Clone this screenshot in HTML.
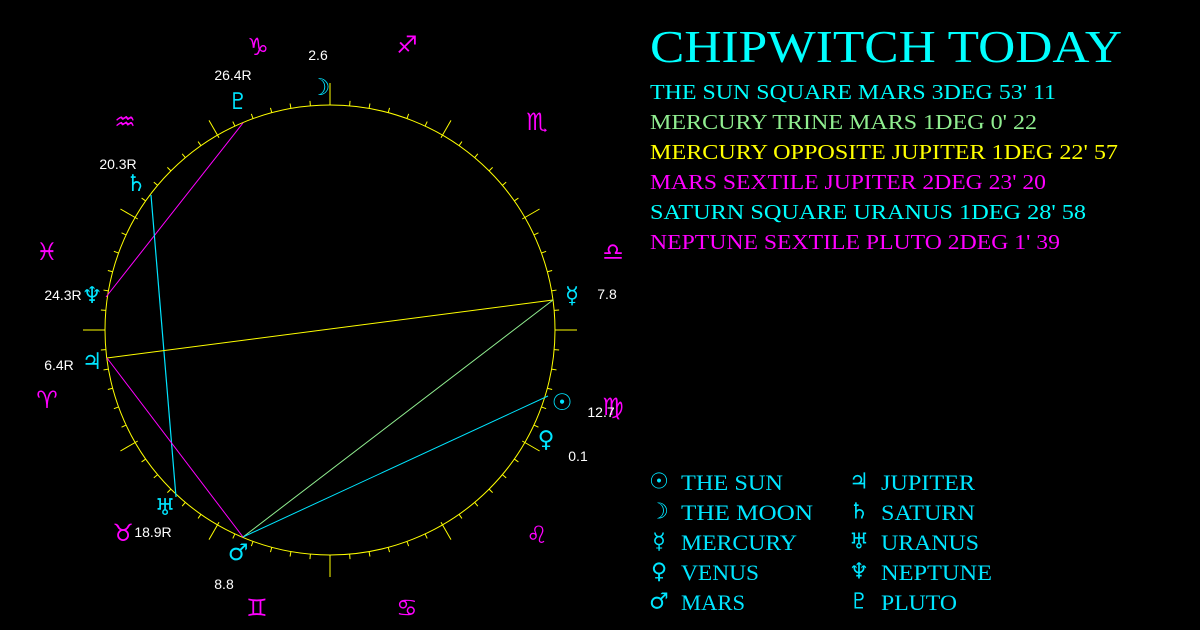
<!DOCTYPE html>
<html><head><meta charset="utf-8"><style>
html,body{margin:0;padding:0;background:#000;width:1200px;height:630px;overflow:hidden}
svg{position:absolute;left:0;top:0}
.t{font-family:"Liberation Serif","DejaVu Serif",serif;text-transform:uppercase}
</style></head><body>
<svg id="s" width="1200" height="630" viewBox="0 0 1200 630" xmlns="http://www.w3.org/2000/svg">
<rect width="1200" height="630" fill="#000"/>
<circle cx="330" cy="330" r="225" fill="none" stroke="#ffff00" stroke-width="1"/>
<g id="ticks" stroke="#ffff00" stroke-width="1"></g>
<line x1="243" y1="123" x2="106" y2="297" stroke="#ff00ff" stroke-width="1"/>
<line x1="151" y1="195" x2="176" y2="497" stroke="#00e5ff" stroke-width="1.2"/>
<line x1="553" y1="300" x2="107" y2="358" stroke="#ffff00" stroke-width="1"/>
<line x1="553" y1="300" x2="243" y2="537" stroke="#90ee90" stroke-width="1"/>
<line x1="548" y1="396" x2="243" y2="537" stroke="#00e5ff" stroke-width="1"/>
<line x1="107" y1="358" x2="243" y2="537" stroke="#ff00ff" stroke-width="1"/>
<g fill="#ff00ff" font-family="DejaVu Sans,sans-serif" font-size="24" text-anchor="middle" dominant-baseline="central">
<text x="258" y="47">♑&#xFE0E;</text><text x="407" y="45">♐&#xFE0E;</text><text x="537" y="122">♏&#xFE0E;</text>
<text x="613" y="252">♎&#xFE0E;</text><text x="613" y="407">♍&#xFE0E;</text><text x="537" y="535">♌&#xFE0E;</text>
<text x="407" y="608">♋&#xFE0E;</text><text x="257" y="608">♊&#xFE0E;</text><text x="123" y="533">♉&#xFE0E;</text>
<text x="47" y="400">♈&#xFE0E;</text><text x="47" y="252">♓&#xFE0E;</text><text x="125" y="122">♒&#xFE0E;</text>
</g>
<g fill="#00e5ff" font-family="DejaVu Sans,sans-serif" font-size="23" text-anchor="middle" dominant-baseline="central">
<text x="320" y="88">☽</text><text x="238" y="102">♇</text><text x="136" y="184">♄</text>
<text x="92" y="296">♆</text><text x="92" y="362">♃</text><text x="165" y="508">♅</text>
<text x="238" y="553">♂</text><text x="546" y="440">♀</text><text x="562" y="403">☉</text><text x="572" y="296">☿</text>
</g>
<g fill="#fff" font-family="Liberation Sans,sans-serif" font-size="14" text-anchor="middle" dominant-baseline="central">
<text x="318" y="55">2.6</text><text x="233" y="75">26.4R</text><text x="118" y="164">20.3R</text>
<text x="63" y="295">24.3R</text><text x="59" y="365">6.4R</text><text x="153" y="532">18.9R</text>
<text x="224" y="584">8.8</text><text x="578" y="456">0.1</text><text x="601" y="412">12.7</text><text x="607" y="294">7.8</text>
</g>
<text class="t" x="650" y="62" fill="#00ffff" font-size="46" textLength="472" lengthAdjust="spacingAndGlyphs">Chipwitch Today</text>
<g class="t" font-size="21">
<text x="650" y="99" fill="#00ffff" textLength="406" lengthAdjust="spacingAndGlyphs">The Sun Square Mars 3deg 53' 11</text>
<text x="650" y="129" fill="#90ee90" textLength="387" lengthAdjust="spacingAndGlyphs">Mercury Trine Mars 1deg 0' 22</text>
<text x="650" y="159" fill="#ffff00" textLength="468" lengthAdjust="spacingAndGlyphs">Mercury Opposite Jupiter 1deg 22' 57</text>
<text x="650" y="189" fill="#ff00ff" textLength="396" lengthAdjust="spacingAndGlyphs">Mars Sextile Jupiter 2deg 23' 20</text>
<text x="650" y="219" fill="#00ffff" textLength="436" lengthAdjust="spacingAndGlyphs">Saturn Square Uranus 1deg 28' 58</text>
<text x="650" y="249" fill="#ff00ff" textLength="410" lengthAdjust="spacingAndGlyphs">Neptune Sextile Pluto 2deg 1' 39</text>
</g>
<g fill="#00e5ff" font-family="DejaVu Sans,sans-serif" font-size="22" text-anchor="middle" dominant-baseline="central">
<text x="659" y="482">☉</text><text x="659" y="512">☽</text><text x="659" y="542">☿</text><text x="659" y="572">♀</text><text x="659" y="602">♂</text>
<text x="859" y="482">♃</text><text x="859" y="512">♄</text><text x="859" y="542">♅</text><text x="859" y="572">♆</text><text x="859" y="602">♇</text>
</g>
<g class="t" fill="#00e5ff" font-size="22">
<text x="681" y="490" textLength="102" lengthAdjust="spacingAndGlyphs">The Sun</text>
<text x="681" y="520" textLength="132" lengthAdjust="spacingAndGlyphs">The Moon</text>
<text x="681" y="550" textLength="116" lengthAdjust="spacingAndGlyphs">Mercury</text>
<text x="681" y="580" textLength="78" lengthAdjust="spacingAndGlyphs">Venus</text>
<text x="681" y="610" textLength="64" lengthAdjust="spacingAndGlyphs">Mars</text>
<text x="881" y="490" textLength="94" lengthAdjust="spacingAndGlyphs">Jupiter</text>
<text x="881" y="520" textLength="94" lengthAdjust="spacingAndGlyphs">Saturn</text>
<text x="881" y="550" textLength="98" lengthAdjust="spacingAndGlyphs">Uranus</text>
<text x="881" y="580" textLength="111" lengthAdjust="spacingAndGlyphs">Neptune</text>
<text x="881" y="610" textLength="76" lengthAdjust="spacingAndGlyphs">Pluto</text>
</g>
</svg>
<script>
var g=document.getElementById('ticks'),ns='http://www.w3.org/2000/svg';
for(var a=0;a<360;a+=5){var r=a*Math.PI/180,c=Math.cos(r),s=-Math.sin(r),r1=225,r2;
if(a%90==0){r1=225;r2=247;}else if(a%30==0){r1=222;r2=242;}else{r2=230;}
var l=document.createElementNS(ns,'line');l.setAttribute('x1',330+r1*c);l.setAttribute('y1',330+r1*s);
l.setAttribute('x2',330+r2*c);l.setAttribute('y2',330+r2*s);g.appendChild(l);}
</script>
</body></html>
